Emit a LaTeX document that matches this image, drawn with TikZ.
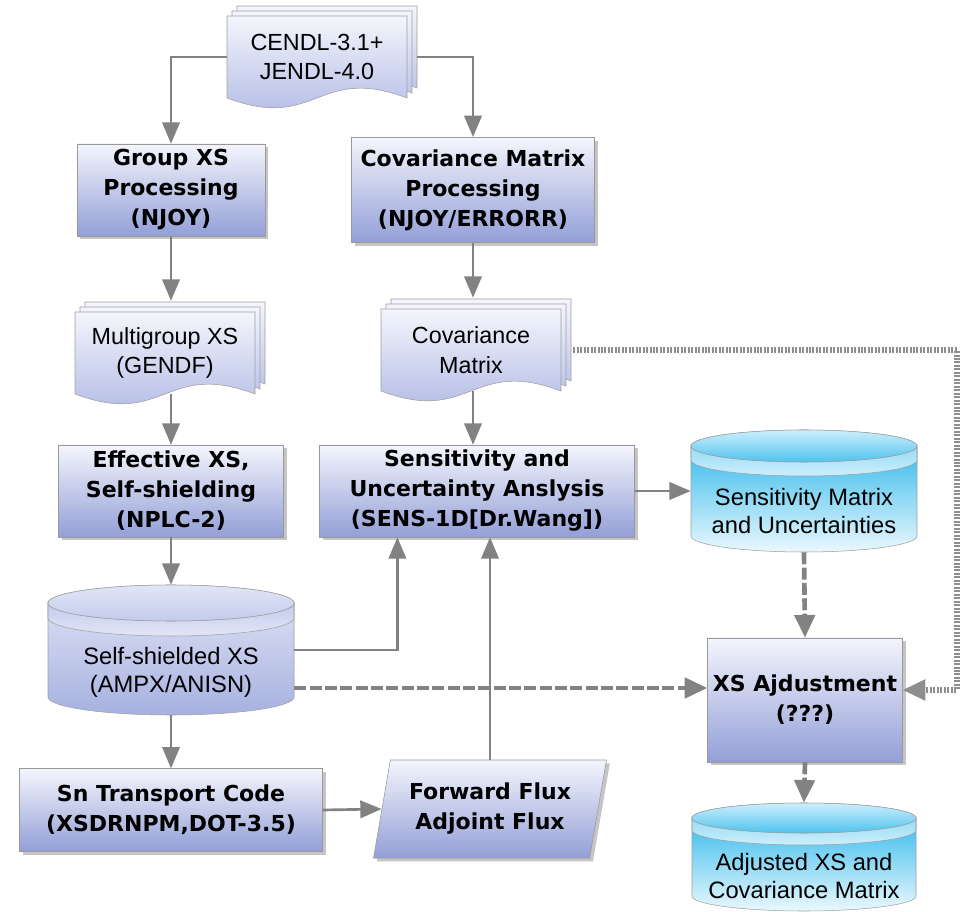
\documentclass[tikz,border=0pt]{standalone}
\usepackage{fontspec}
\setmainfont{Liberation Sans}
\newfontfamily\boxfnt{DejaVu Sans}
\usetikzlibrary{arrows.meta, positioning, calc, shapes.geometric, shadows}

\definecolor{boxtop}{HTML}{F4F5FC}
\definecolor{boxbot}{HTML}{939FD7}
\definecolor{pagebot}{HTML}{A9B3E2}
\definecolor{lavtop}{HTML}{E2E6F6}
\definecolor{lavmid}{HTML}{C3CBEC}
\definecolor{lavbot}{HTML}{A7B1E0}
\definecolor{cyntop}{HTML}{CDEFFB}
\definecolor{cynmid}{HTML}{4FC3EF}
\definecolor{cynbody}{HTML}{1CB1EA}
\definecolor{cynbot}{HTML}{EAF8FD}
\definecolor{linegray}{HTML}{828282}

% stacked document pages: name, x, y, text
\newcommand{\docstack}[4]{%
  \foreach \k in {2,1,0}
    \path[page, shift={(5*\k,-5*\k)}] (#2-90,#3-41) -- (#2+90,#3-41) -- (#2+90,#3+41)
      .. controls (#2,#3+7) and (#2,#3+75) .. (#2-90,#3+41) -- cycle;
  \node[doctext] (#1) at (#2,#3) {#4};
}

% drum (database): name, x, y, half width, half height, ry, band, colour set, text
\newcommand{\drum}[9]{%
  \path[#8 body] (#2-#4,#3-#5+#6) -- (#2-#4,#3+#5-#6)
    arc[start angle=180, end angle=0, x radius=#4, y radius=#6]
    -- (#2+#4,#3-#5+#6)
    arc[start angle=0, end angle=-180, x radius=#4, y radius=#6] -- cycle;
  \path[#8 band] (#2-#4,#3-#5+#6) -- (#2-#4,#3-#5+#6+#7)
    arc[start angle=180, end angle=0, x radius=#4, y radius=#6]
    -- (#2+#4,#3-#5+#6)
    arc[start angle=0, end angle=180, x radius=#4, y radius=#6] -- cycle;
  \path[#8 top] (#2,#3-#5+#6) ellipse [x radius=#4, y radius=#6];
  \node[drumbox, minimum width=#4*1.5pt, minimum height=#5*1.5pt] (#1) at (#2,#3) {};
  \node[drumtext] (#1-t) at (#2,#3+#6+4) {#9};
}

\begin{document}
\begin{tikzpicture}[x=0.75pt, y=-0.75pt,
    box/.style={draw=gray!80, top color=boxtop, bottom color=boxbot,
        drop shadow={shadow xshift=2.5pt, shadow yshift=-2.5pt, opacity=0.45},
        align=center, inner sep=2pt, font=\boxfnt\bfseries\fontsize{16.5}{22.5}\selectfont},
    page/.style={draw=gray!75, top color=boxtop, bottom color=pagebot},
    doctext/.style={align=center, inner sep=0pt, minimum width=135pt, minimum height=61.5pt,
        font=\fontsize{17.5}{22}\selectfont},
    drumbox/.style={inner sep=0pt},
    drumtext/.style={align=center, inner sep=0pt, font=\fontsize{17.8}{21}\selectfont},
    lav body/.style={draw=gray!75, top color=lavtop, bottom color=lavbot},
    lav band/.style={draw=gray!75, top color=lavmid, bottom color=lavtop},
    lav top/.style={draw=gray!75, top color=lavtop, bottom color=lavmid},
    cyn body/.style={draw=gray!75, top color=cynbody, bottom color=cynbot},
    cyn band/.style={draw=gray!75, top color=cynmid!60!white, bottom color=cyntop},
    cyn top/.style={draw=gray!75, top color=cyntop, bottom color=cynmid},
    arr/.style={draw=linegray, line width=2pt, -{Triangle[length=16pt, width=13pt]}},
    dsh/.style={draw=linegray, line width=3.5pt, dash pattern=on 9pt off 2.5pt,
        -{Triangle[length=17pt, width=15pt]}},
    dtd/.style={draw=linegray!90, line width=3.8pt, dash pattern=on 1.5pt off 1.1pt,
        -{Triangle[length=17pt, width=15pt]}}
]
    \fill[white] (0,0) rectangle (961,912);
    \useasboundingbox (0,0) rectangle (961,912);

    % data and processing
    \docstack{cendl}{317}{57}{CENDL-3.1+\\JENDL-4.0}
    \node[box, minimum width=141pt, minimum height=69pt] (grp) at (171,190) {Group XS\\Processing\\(NJOY)};
    \node[box, minimum width=182pt, minimum height=79pt] (covp) at (473,190) {Covariance Matrix\\Processing\\(NJOY/ERRORR)};
    \docstack{mgxs}{165}{353}{Multigroup XS\\(GENDF)}
    \docstack{covm}{471}{350}{Covariance\\Matrix}

    % self-shielding and sensitivity
    \node[box, minimum width=169pt, minimum height=69pt] (eff) at (171,491) {Effective XS,\\Self-shielding\\(NPLC-2)};
    \node[box, minimum width=236pt, minimum height=69pt] (sens) at (477,491) {Sensitivity and\\Uncertainty Anslysis\\(SENS-1D[Dr.Wang])};
    \drum{smat}{804}{491}{113}{61}{16}{14}{cyn}{Sensitivity Matrix\\and Uncertainties}
    \drum{ssxs}{171}{650}{123}{65}{18}{15}{lav}{Self-shielded XS\\(AMPX/ANISN)}

    % transport and adjustment
    \node[box, minimum width=146pt, minimum height=93pt] (adj) at (805,700) {XS Ajdustment\\(???)};
    \node[box, minimum width=227pt, minimum height=62pt] (sn) at (171,810) {Sn Transport Code\\(XSDRNPM,DOT-3.5)};
    \node[box, trapezium, trapezium left angle=76, trapezium right angle=104, trapezium stretches=true,
        minimum width=175pt, minimum height=73.5pt] (flux) at (490,809) {Forward Flux\\Adjoint Flux};
    \drum{adjxs}{804}{857}{112}{54}{15}{12}{cyn}{Adjusted XS and\\Covariance Matrix}

    % connectors
    \draw[arr] (cendl.west) -| (grp.north);
    \draw[arr] ($(cendl.east)+(10,0)$) -| (covp.north);
    \draw[arr] (grp.south) -- ($(grp.south |- mgxs.north)+(0,-11)$);
    \draw[arr] (covp.south) -- ($(covp.south |- covm.north)+(0,-11)$);
    \draw[arr] (eff.north |- mgxs.south) -- (eff.north);
    \draw[arr] (covm.south -| covp.south) -- (sens.north -| covp.south);
    \draw[arr] (eff.south) -- (ssxs.north);
    \draw[arr] (sens.east) -- (smat.west);
    \draw[arr] (ssxs.east) -| ($(sens.south west)+(78,0)$);
    \draw[arr] (ssxs.south) -- (sn.north);
    \draw[arr] (sn.east) -- (flux.west);
    \draw[arr] (flux.north) -- (flux.north |- sens.south);
    \draw[dsh] (smat.south) -- (adj.north);
    \draw[dsh] (adj.south) -- (adjxs.north);
    \coordinate (dj) at ($(ssxs.east)+(0,38)$);
    \draw[dsh] (dj) -- (dj -| adj.west);
    \coordinate (rt) at (957,690);
    \draw[dtd] ($(covm.east)+(12,0)$) -| (rt) -- ($(adj.east)+(0,-10)$);
\end{tikzpicture}
\end{document}
